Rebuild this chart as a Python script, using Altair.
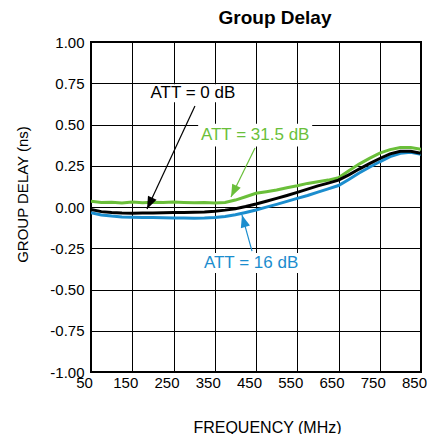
import altair as alt
import pandas as pd

# ---- data ----
freq = [50, 75, 100, 125, 150, 175, 200, 225, 250, 275, 300, 325, 350, 375, 400,
        425, 450, 475, 500, 525, 550, 575, 600, 625, 650, 675, 700, 725, 750,
        775, 800, 825, 850]
att_0 = [-0.015, -0.028, -0.034, -0.037, -0.038, -0.037, -0.036, -0.035, -0.034,
         -0.033, -0.032, -0.030, -0.026, -0.019, -0.010, 0.003, 0.018, 0.035,
         0.052, 0.070, 0.089, 0.108, 0.128, 0.145, 0.163, 0.195, 0.230, 0.263,
         0.294, 0.322, 0.338, 0.338, 0.326]
att_16 = [-0.035, -0.048, -0.055, -0.060, -0.062, -0.063, -0.064, -0.065, -0.066,
          -0.067, -0.068, -0.067, -0.064, -0.057, -0.047, -0.033, -0.018, -0.001,
          0.016, 0.034, 0.052, 0.070, 0.090, 0.110, 0.130, 0.167, 0.206, 0.241,
          0.274, 0.305, 0.326, 0.332, 0.320]
att_31_5 = [0.035, 0.027, 0.029, 0.025, 0.030, 0.026, 0.029, 0.027, 0.031, 0.028,
            0.026, 0.028, 0.025, 0.027, 0.042, 0.062, 0.083, 0.093, 0.103, 0.117,
            0.129, 0.143, 0.153, 0.163, 0.177, 0.220, 0.260, 0.295, 0.326, 0.348,
            0.360, 0.361, 0.350]

x_ticks = [50, 150, 250, 350, 450, 550, 650, 750, 850]
y_ticks = [-1.0, -0.75, -0.5, -0.25, 0.0, 0.25, 0.5, 0.75, 1.0]

labels = ["ATT = 0 dB", "ATT = 31.5 dB", "ATT = 16 dB"]
label_freq = [297, 448, 438]
label_val = [0.69, 0.436, -0.34]
arrow_f1 = [302, 447.6, 440.3]
arrow_v1 = [0.612, 0.358, -0.267]
arrow_f2 = [185.8, 389.4, 416.0]
arrow_v2 = [-0.012, 0.061, -0.048]
arrow_angle = [205, 206, 344]
box_size = [8100, 13000, 10000]

GREEN = "#6abf3a"
BLUE = "#1b8dce"
BLACK = "#000000"
label_colors = [BLACK, GREEN, BLUE]
FONT = "Liberation Sans"

df = pd.DataFrame({"freq": freq, "a0": att_0, "a16": att_16, "a31": att_31_5})
ann = pd.DataFrame({"text": labels, "f": label_freq, "v": label_val,
                    "f1": arrow_f1, "v1": arrow_v1, "f2": arrow_f2, "v2": arrow_v2,
                    "angle": arrow_angle, "color": label_colors, "box": box_size})

xscale = alt.Scale(domain=[50, 850], nice=False, zero=False)
yscale = alt.Scale(domain=[-1, 1], nice=False)

xaxis = alt.Axis(values=x_ticks, title="FREQUENCY (MHz)", grid=True, gridColor="black",
                 gridWidth=1, gridOpacity=1, ticks=False, domain=False,
                 labelFontSize=15, labelFont=FONT, labelColor="black", labelPadding=3,
                 labelFlush=False, labelOffset=-7,
                 titleFont=FONT, titleFontSize=16, titleFontWeight="normal",
                 titleColor="black", titleX=176, titleY=55, titleBaseline="middle",
                 titleAlign="center")
yaxis = alt.Axis(values=y_ticks, title="GROUP DELAY (ns)", grid=True, gridColor="black",
                 gridWidth=1, gridOpacity=1, ticks=False, domain=False,
                 labelExpr="replace(format(datum.value, '.2f'), '\u2212', '-')",
                 labelFontSize=15, labelFont=FONT, labelColor="black", labelPadding=7,
                 labelFlush=False,
                 titleFont=FONT, titleFontSize=15, titleFontWeight="normal",
                 titleColor="black", titleX=-69, titleY=152, titleAngle=270,
                 titleBaseline="middle", titleAlign="center")

def X(field):
    return alt.X(field, scale=xscale, axis=xaxis, title="FREQUENCY (MHz)")

def Y(field):
    return alt.Y(field, scale=yscale, axis=yaxis, title="GROUP DELAY (ns)")

base = alt.Chart(df)

def series(col, color):
    return base.mark_line(strokeWidth=3, color=color, clip=True).encode(
        x=X("freq:Q"), y=Y(f"{col}:Q"))

green_line = series("a31", GREEN)
blue_line = series("a16", BLUE)
black_line = series("a0", BLACK)

abase = alt.Chart(ann)
arrows = abase.mark_rule(strokeWidth=1.2).encode(
    x=X("f1:Q"), y=Y("v1:Q"), x2="f2:Q", y2="v2:Q",
    color=alt.Color("color:N", scale=None),
)
heads = abase.mark_point(shape="M0,0L-0.38,1L0.38,1Z", filled=True, size=620,
                         opacity=1, strokeWidth=0).encode(
    x=X("f2:Q"), y=Y("v2:Q"),
    angle=alt.Angle("angle:Q", scale=None),
    color=alt.Color("color:N", scale=None),
)
# white box behind each label (hides the grid like the reference)
boxes = abase.mark_point(shape="M-1,-0.2L1,-0.2L1,0.2L-1,0.2Z", filled=True,
                         color="white", opacity=1, strokeWidth=0).encode(
    x=X("f:Q"), y=Y("v:Q"),
    size=alt.Size("box:Q", scale=None),
)
texts = abase.mark_text(font=FONT, fontSize=17, align="center", baseline="middle").encode(
    x=X("f:Q"), y=Y("v:Q"),
    text="text:N",
    color=alt.Color("color:N", scale=None),
)
title = alt.Chart(pd.DataFrame({"t": ["Group Delay"]})).mark_text(
    font=FONT, fontSize=19, fontWeight="bold", align="center", baseline="middle",
    color="black").encode(x=alt.value(184), y=alt.value(-24), text="t:N")

chart = alt.layer(green_line, blue_line, black_line, arrows, heads, boxes, texts,
                  title).properties(
    width=330, height=330,
    background="white",
    autosize=alt.AutoSizeParams(type="none"),
    padding={"left": 83, "top": 34, "right": 6, "bottom": 62},
).configure_view(stroke="black", strokeWidth=2)

chart.save("out.html", embed_options={"renderer": "svg", "actions": False})
